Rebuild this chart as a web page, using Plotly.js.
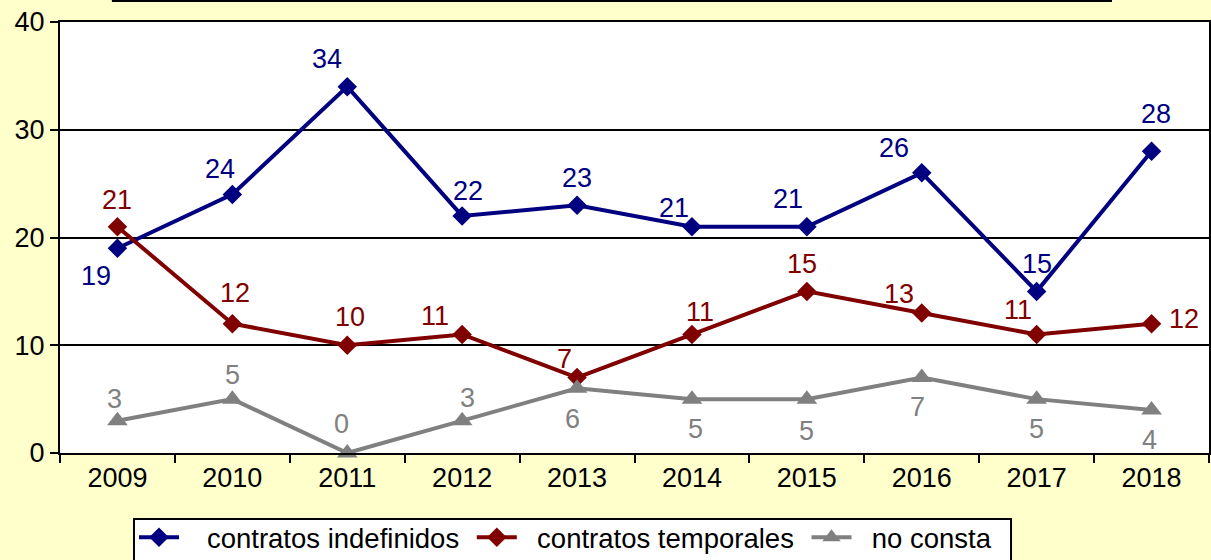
<!DOCTYPE html>
<html><head><meta charset="utf-8">
<script src="https://cdn.plot.ly/plotly-3.0.1.min.js"></script>
<style>html,body{margin:0;padding:0;background:#FFFFCC;}</style>
</head><body>
<div id="chart" style="width:1211px;height:560px;"></div>
<script>
// data
const years = ['2009','2010','2011','2012','2013','2014','2015','2016','2017','2018'];
const indefinidos = [19,24,34,22,23,21,21,26,15,28];
const temporales = [21,12,10,11,7,11,15,13,11,12];
const noConsta = [3,5,0,3,6,5,5,7,5,4];
const seriesNames = ['contratos indefinidos','contratos temporales','no consta'];

// label placement (pixel offsets from each point, style only)
const offIndef = [[-21,27],[-12,-26],[-20,-29],[6,-26],[0,-28],[-18,-20],[-19,-29],[-28,-26],[0,-28],[4,-38]];
const offTemp  = [[0,-28],[3,-32],[3,-29],[-27,-19],[-13,-20],[8,-23],[-5,-28],[-23,-20],[-19,-25],[32,-6]];
const offNo    = [[-3,-23],[0,-25],[-6,-30],[5,-24],[-5,30],[4,29],[0,31],[-4,28],[0,29],[-2,29]];
const legendPad = [['\u00A0\u00A0\u00A0','\u00A0'],['\u00A0\u00A0','\u00A0'],['\u00A0\u00A0','']];

const fontFam = 'Liberation Sans, Arial, sans-serif';
const fs = 27;
const colors = ['#000080','#800000','#808080'];
const allVals = [indefinidos, temporales, noConsta];
const allOffs = [offIndef, offTemp, offNo];
const symbols = ['diamond','diamond','triangle-up'];
const sizes = [15,15,18];

const traces = allVals.map((vals, k) => ({
  x: years, y: vals, name: legendPad[k][0] + seriesNames[k] + legendPad[k][1], mode: 'lines+markers',
  line: {color: colors[k], width: 4}, marker: {symbol: symbols[k], size: sizes[k], color: colors[k]},
  cliponaxis: false
}));

const annotations = [];
allVals.forEach((vals, k) => {
  vals.forEach((v, i) => {
    annotations.push({x: i, y: v, xref: 'x', yref: 'y', text: String(v), showarrow: false,
      xanchor: 'center', yanchor: 'middle', xshift: allOffs[k][i][0], yshift: -allOffs[k][i][1] - 1,
      font: {family: fontFam, size: fs, color: colors[k]}});
  });
});

const layout = {
 width: 1211, height: 560,
 paper_bgcolor: '#FFFFCC', plot_bgcolor: '#FFFFFF',
 margin: {l: 60, r: 2, t: 22, b: 107, autoexpand: false},
 font: {family: fontFam, size: fs, color: '#000000'},
 showlegend: true,
 legend: {orientation: 'h', x: 0.0644, y: -0.1392, xanchor: 'left', yanchor: 'top',
  bgcolor: 'rgba(0,0,0,0)', borderwidth: 0,
  font: {family: fontFam, size: 27.5, color: '#000000'}, itemwidth: 40},
 xaxis: {type: 'category', range: [-0.5, 9.5], showgrid: false, zeroline: false, automargin: false,
  showline: true, linecolor: '#000000', linewidth: 2, mirror: true,
  ticks: 'outside', ticklen: 8, tickwidth: 2, tickcolor: '#000000', tickson: 'boundaries',
  tickfont: {family: fontFam, size: fs, color: '#000000'}},
 yaxis: {range: [0, 40], dtick: 10, showgrid: true, gridcolor: '#000000', gridwidth: 2,
  zeroline: false, showline: true, linecolor: '#000000', linewidth: 2, mirror: true, automargin: false,
  ticks: 'outside', ticklen: 8, tickwidth: 2, tickcolor: '#000000',
  tickfont: {family: fontFam, size: fs, color: '#000000'}},
 annotations: annotations,
 shapes: [
  {type: 'rect', xref: 'paper', yref: 'paper', x0: 0.046, x1: 0.9147, y0: 1.0487, y1: 1.3,
   line: {color: '#000000', width: 2}, fillcolor: '#FFFFCC'},
  {type: 'rect', xref: 'paper', yref: 'paper', x0: 0.0644, x1: 0.8277, y0: -0.1531, y1: -0.35,
   line: {color: '#000000', width: 2}, fillcolor: '#FFFFFF'}
 ]
};
Plotly.newPlot('chart', traces, layout, {displayModeBar: false});
</script>
</body></html>
